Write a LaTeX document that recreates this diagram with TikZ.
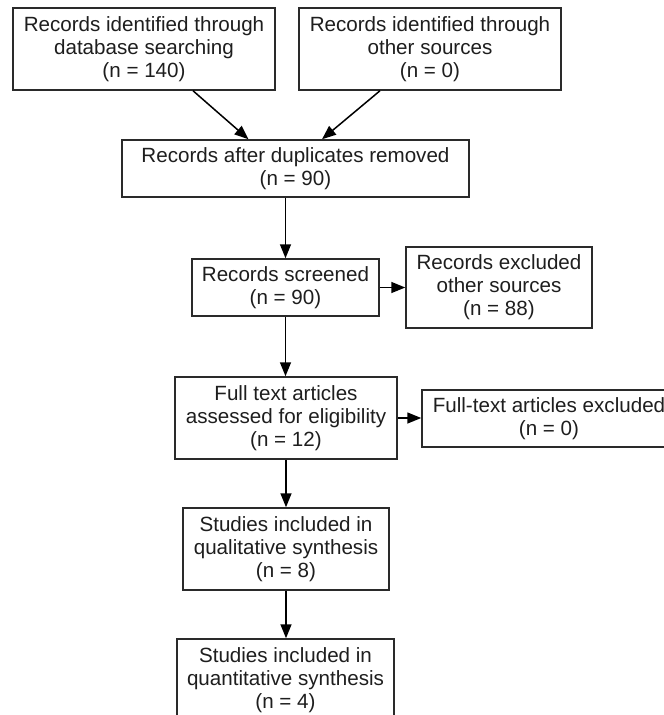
\documentclass[tikz,border=0pt]{standalone}
\usepackage{fontspec}
\setmainfont{Liberation Sans}
\usetikzlibrary{arrows.meta}
\definecolor{ink}{HTML}{1E1E1E}
\definecolor{edge}{HTML}{2A2A2A}
\tikzset{
  box/.style={draw=edge, line width=1.5pt, align=center, inner sep=0pt,
    text=ink, font=\fontsize{20.6pt}{23pt}\selectfont},
  arr/.style={draw=black, line width=1.5pt, -{Triangle[length=14pt,width=11pt]}}
}
\begin{document}
\begin{tikzpicture}[x=1pt,y=1pt]
\clip (0,0) rectangle (664,-715);
\fill[white] (0,0) rectangle (664,-715);
\node[box, minimum width=262pt, minimum height=82pt] (b1) at (144,-49)
  {Records identified through\\database searching\\(n = 140)};
\node[box, minimum width=262pt, minimum height=82pt] (b2) at (430,-49)
  {Records identified through\\other sources\\(n = 0)};
\node[box, minimum width=347pt, minimum height=57pt] (b3) at (295.5,-168.5)
  {Records after duplicates removed\\(n = 90)};
\node[box, minimum width=187pt, minimum height=57pt] (sc) at (285.5,-287.5)
  {Records screened\\(n = 90)};
\node[box, minimum width=186pt, minimum height=81pt] (ex) at (499,-287.5)
  {Records excluded\\other sources\\(n = 88)};
\node[box, minimum width=222pt, minimum height=82pt] (ft) at (286,-418)
  {Full text articles\\assessed for eligibility\\(n = 12)};
\node[box, minimum width=254pt, minimum height=57pt] (fx) at (549,-418.5)
  {Full-text articles excluded\\(n = 0)};
\node[box, minimum width=206pt, minimum height=82pt] (q1) at (286,-549)
  {Studies included in\\qualitative synthesis\\(n = 8)};
\node[box, minimum width=217pt, minimum height=82pt] (q2) at (285.5,-680)
  {Studies included in\\quantitative synthesis\\(n = 4)};
\draw[arr] ([xshift=49pt]b1.south) -- ([xshift=-47pt]b3.north);
\draw[arr] ([xshift=-50pt]b2.south) -- ([xshift=26.5pt]b3.north);
\draw[arr] (b3.south -| sc.north) -- (sc.north);
\draw[arr] (sc.east) -- (sc.east -| ex.west);
\draw[arr] (sc.south) -- (sc.south |- ft.north);
\draw[arr] (ft.east) -- (ft.east -| fx.west);
\draw[arr] (ft.south) -- (ft.south |- q1.north);
\draw[arr] (q1.south) -- (q1.south |- q2.north);
\end{tikzpicture}
\end{document}
